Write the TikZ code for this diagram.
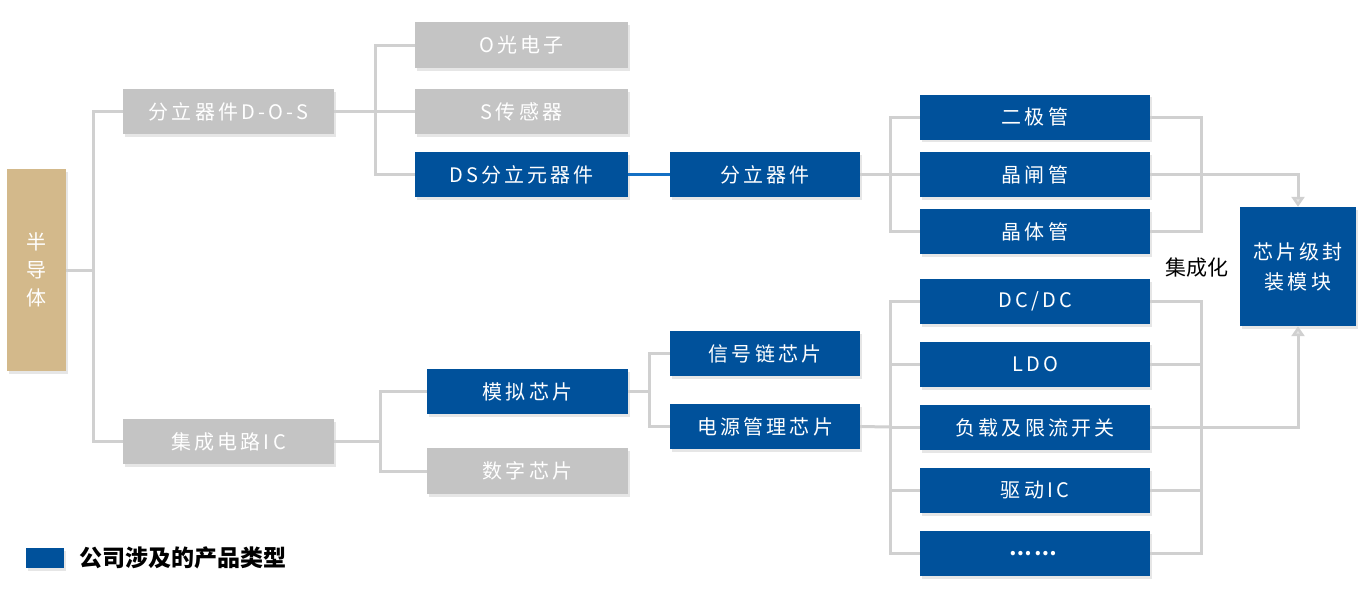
\documentclass[tikz,border=0pt]{standalone}
\usepackage{fontspec}
\setmainfont{Noto Sans CJK SC}
\newfontfamily\boxfont[LetterSpace=16]{Noto Sans CJK SC}
\usetikzlibrary{arrows.meta,shadows}
\definecolor{coblue}{RGB}{0,81,155}
\definecolor{lineblue}{RGB}{20,112,196}
\definecolor{boxgray}{RGB}{196,196,196}
\definecolor{tan}{RGB}{211,185,139}
\definecolor{linegray}{RGB}{208,208,208}

\begin{document}
\begin{tikzpicture}[x=1pt,y=-1pt,
    box/.style={minimum height=45pt,inner sep=0pt,text=white,
      font=\boxfont\fontsize{20}{24}\selectfont,
      drop shadow={shadow xshift=1.5pt,shadow yshift=-2.5pt,opacity=.2}},
    graybox/.style={box,fill=boxgray},
    bluebox/.style={box,fill=coblue},
    link/.style={linegray,line width=3pt},
    uparrow/.style={link,-{Triangle[length=10pt,width=13pt,fill=linegray!55]}}]
    \useasboundingbox (0,0) rectangle (1368,598);

    \node[box,fill=tan,minimum width=59pt,minimum height=202pt,align=center,
      font=\boxfont\fontsize{20}{28}\selectfont] (bdt) at (36.5,270) {半\\导\\体};

    \node[graybox,minimum width=211pt] (dos) at (228.5,111.5) {分立器件D-O-S};
    \node[graybox,minimum width=211pt] (jcdl) at (228.5,441.5) {集成电路IC};

    \node[graybox,minimum width=213pt,minimum height=46pt] (gdz) at (521.5,45) {O光电子};
    \node[graybox,minimum width=213pt] (cgq) at (521.5,111.5) {S传感器};
    \node[bluebox,minimum width=213pt] (dsfl) at (521.5,174.5) {DS分立元器件};
    \node[bluebox,minimum width=190pt] (flqj) at (765,174.5) {分立器件};

    \node[bluebox,minimum width=201pt] (mnxp) at (527.5,391.5) {模拟芯片};
    \node[graybox,minimum width=201pt,minimum height=46pt] (szxp) at (527.5,471) {数字芯片};
    \node[bluebox,minimum width=190pt] (xhl) at (765,353.5) {信号链芯片};
    \node[bluebox,minimum width=190pt] (dygl) at (765,426.5) {电源管理芯片};

    \foreach \name/\y/\txt in {ejg/117/二极管,jzg/174.5/晶闸管,jtg/231.5/晶体管,
        dcdc/301.5/{DC/DC},ldo/364.5/LDO,fzkg/427.5/负载及限流开关,qd/490.5/驱动IC,more/553.5/{\textbf{……}}}
      \node[bluebox,minimum width=230pt] (\name) at (1035,\y) {\txt};

    \node[bluebox,minimum width=116pt,minimum height=119pt,align=center,
      font=\boxfont\fontsize{20}{30}\selectfont] (fzmk) at (1298,266.5) {芯片级封\\装模块};
    \node[font=\fontsize{21}{24}\selectfont] (jch) at (1197,268) {集成化};

    % legend
    \node[bluebox,minimum width=38pt,minimum height=20pt] (key) at (45,558) {};
    \node[anchor=west,font=\bfseries\fontsize{23}{26}\selectfont] (keytxt) at (76,558) {公司涉及的产品类型};

    % connectors
    \coordinate (bA) at (93,270);
    \draw[link] (bdt.east) -- (bA);
    \draw[link] (dos.west) -| (bA) |- (jcdl.west);

    \coordinate (dA) at (375,111.5);
    \draw[link] (dos.east) -- (dA);
    \draw[link] (gdz.west) -| (dA) |- (dsfl.west);
    \draw[link] (cgq.west) -- (dA);

    \draw[lineblue,line width=3pt] (dsfl.east) -- (flqj.west);

    \coordinate (fA) at (890,174.5);
    \draw[link] (flqj.east) -- (fA);
    \draw[link] (ejg.west) -| (fA) |- (jtg.west);
    \draw[link] (jzg.west) -- (fA);

    \coordinate (rA) at (1201,174.5);
    \draw[link] (ejg.east) -| (rA) |- (jtg.east);
    \draw[link] (jzg.east) -- (rA);
    \draw[uparrow] (rA) -| (fzmk.north);

    \coordinate (cA) at (380,441.5);
    \draw[link] (jcdl.east) -- (cA);
    \draw[link] (mnxp.west) -| (cA) |- (szxp.west);

    \coordinate (mA) at (649,391.5);
    \draw[link] (mnxp.east) -- (mA);
    \draw[link] (xhl.west) -| (mA) |- (dygl.west);

    \coordinate (lB) at (890,427);
    \draw[link] (dygl.east) -- (lB);
    \draw[link] (dcdc.west) -| (lB) |- (more.west);
    \coordinate (rB) at (1201,427.5);
    \draw[link] (dcdc.east) -| (rB) |- (more.east);
    \foreach \name in {ldo,fzkg,qd} {
      \draw[link] (\name.west) -- (\name.west -| lB);
      \draw[link] (\name.east) -- (\name.east -| rB);
    }
    \draw[uparrow] (rB) -| (fzmk.south);
  \end{tikzpicture}
\end{document}
